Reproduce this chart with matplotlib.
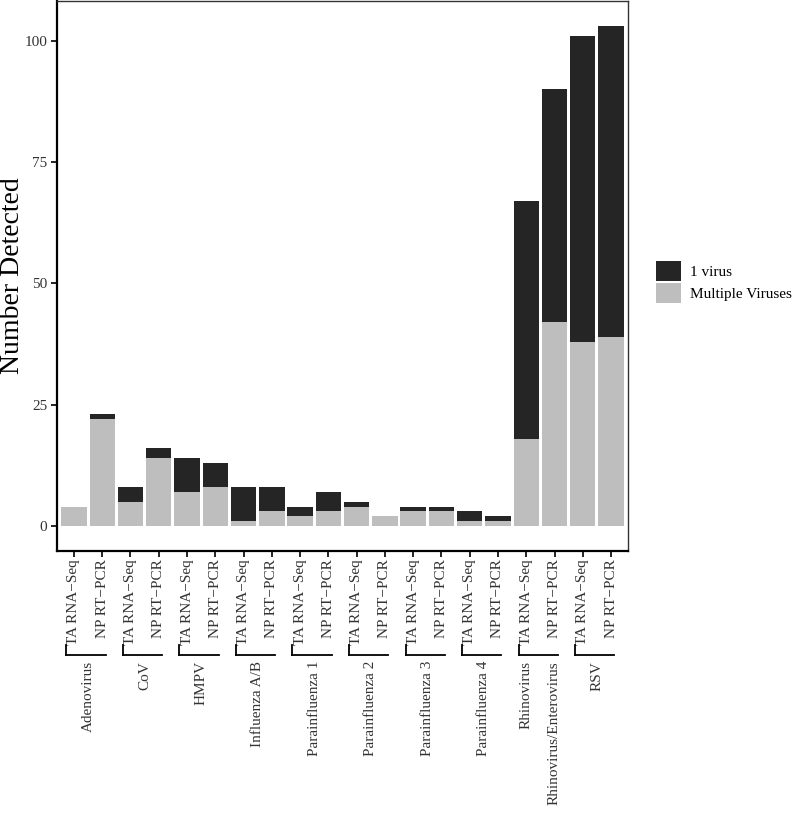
import numpy as np
import matplotlib
matplotlib.use("Agg")
import matplotlib.pyplot as plt
import matplotlib.transforms as mtransforms
from matplotlib.patches import Patch

plt.rcParams['font.family'] = ['Liberation Serif', 'DejaVu Serif']

# data
viruses = ["Adenovirus", "CoV", "HMPV", "Influenza A/B", "Parainfluenza 1",
           "Parainfluenza 2", "Parainfluenza 3", "Parainfluenza 4",
           "Rhinovirus\nRhinovirus/Enterovirus", "RSV"]
methods = ["TA RNA\u2212Seq", "NP RT\u2212PCR"]
# per bar, order: virus x method
multiple = [4, 22, 5, 14, 7, 8, 1, 3, 2, 3, 4, 2, 3, 3, 1, 1, 18, 42, 38, 39]
single = [0, 1, 3, 2, 7, 5, 7, 5, 2, 4, 1, 0, 1, 1, 2, 1, 49, 48, 63, 64]

dark = "#252525"
light = "#BEBEBE"
W, H = 800, 816

fig = plt.figure(figsize=(W / 100, H / 100), dpi=100)
ax = fig.add_axes([57 / W, 1 - 551 / H, (628 - 57) / W, 550 / H])

x = np.arange(len(multiple))
multiple = np.array(multiple)
single = np.array(single)
ax.bar(x, multiple, width=0.9, color=light, linewidth=0)
ax.bar(x, single, width=0.9, bottom=multiple, color=dark, linewidth=0)

top = (multiple + single).max()
ax.set_xlim(-0.6, len(x) - 0.4)
ax.set_ylim(-0.05 * top, top * 1.05)

ax.set_yticks([0, 25, 50, 75, 100])
ax.tick_params(axis='y', labelsize=11, labelcolor='#333333', length=4, width=1.2, pad=3)
ax.set_xticks(x)
ax.set_xticklabels(methods * len(viruses), rotation=90, fontsize=11, color='#333333')
ax.tick_params(axis='x', length=4, width=1.2, pad=2)
for sp in ax.spines.values():
    sp.set_linewidth(1.0)
    sp.set_color('#333333')
ax.spines['left'].set_linewidth(1.6)
ax.spines['left'].set_color('black')
ax.spines['bottom'].set_linewidth(1.6)
ax.spines['bottom'].set_color('black')

# nested group axis: line plus virus names
trans = mtransforms.blended_transform_factory(ax.transData, fig.transFigure)
line_y = 1 - 655 / H
for i, name in enumerate(viruses):
    x0, x1 = 2 * i, 2 * i + 1
    ax.plot([x0 - 0.27, x1 + 0.12], [line_y, line_y], transform=trans,
            color='black', lw=1.3, clip_on=False)
    ax.plot([x0 - 0.27, x0 - 0.27], [line_y, 1 - 645 / H], transform=trans,
            color='black', lw=1.3, clip_on=False)
    parts = name.split("\n")
    if len(parts) == 1:
        pos = [(x0 + x1) / 2]
    else:
        pos = np.linspace(x0, x1, len(parts))
    for p, txt in zip(pos, parts):
        ax.text(p, 1 - 661 / H, txt, transform=trans, rotation=90,
                ha='center', va='top', fontsize=11, color='#333333')

fig.text(13 / W, 1 - 276 / H, "Number Detected", rotation=90,
         ha='center', va='center', fontsize=20)

handles = [Patch(facecolor=dark, edgecolor='none'),
           Patch(facecolor=light, edgecolor='none')]
fig.legend(handles, ["1 virus", "Multiple Viruses"], loc='upper left',
           bbox_to_anchor=(656 / W, 1 - 261 / H), frameon=False, fontsize=11,
           handlelength=1.65, handleheight=1.65, handletextpad=0.55,
           labelspacing=0.12, borderpad=0, borderaxespad=0)

plt.savefig("out.png", dpi=100)
